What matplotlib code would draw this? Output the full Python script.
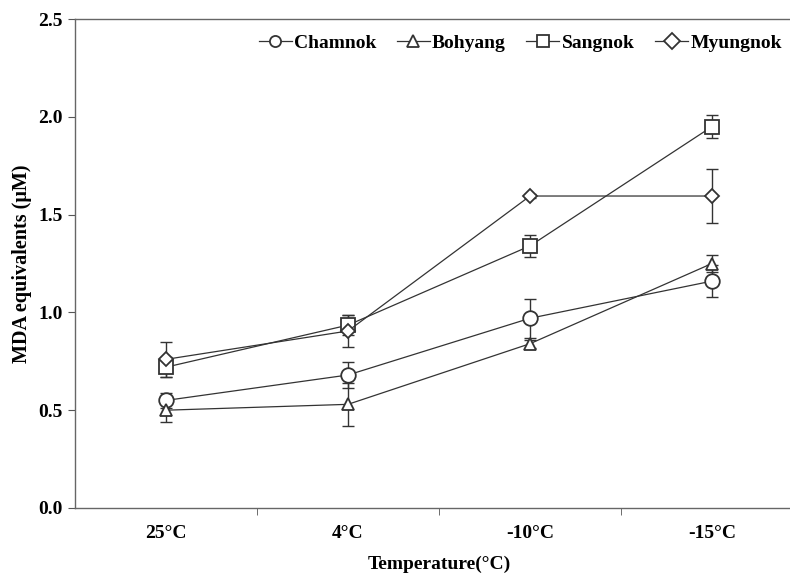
import numpy as np
import matplotlib.pyplot as plt

plt.rcParams['font.family'] = ['Liberation Serif', 'DejaVu Serif']
plt.rcParams['font.weight'] = 'bold'

temps = ['25°C', '4°C', '-10°C', '-15°C']
names = ['Chamnok', 'Bohyang', 'Sangnok', 'Myungnok']
markers = ['o', '^', 's', 'D']
msizes = [10.5, 9, 10, 7.5]

chamnok = [0.55, 0.68, 0.97, 1.16]
chamnok_err = [0.04, 0.065, 0.10, 0.08]
bohyang = [0.50, 0.53, 0.84, 1.25]
bohyang_err = [0.06, 0.11, 0.02, 0.045]
sangnok = [0.72, 0.935, 1.34, 1.95]
sangnok_err = [0.05, 0.05, 0.055, 0.06]
myungnok = [0.76, 0.905, 1.595, 1.595]
myungnok_err = [0.09, 0.08, 0.01, 0.14]

series = [chamnok, bohyang, sangnok, myungnok]
errs = [chamnok_err, bohyang_err, sangnok_err, myungnok_err]

col = '#333333'
fig = plt.figure(figsize=(7.9, 5.78), dpi=100)
ax = fig.add_axes([75/790, 70/578, 728/790, 489/578])

x = np.arange(len(temps))
for vals, e, m, ms, nm in zip(series, errs, markers, msizes, names):
    ax.errorbar(x, vals, yerr=e, fmt='none', ecolor=col, elinewidth=1.0,
                capsize=4, capthick=1.0, zorder=2)
    ax.plot(x, vals, '-', color=col, lw=0.9, marker=m, ms=ms,
            mfc='white', mec=col, mew=1.3, label=nm, zorder=3)

ax.set_xlim(-0.5, 3.5)
ax.set_ylim(0, 2.5)
ax.set_yticks(np.arange(0, 2.51, 0.5))
ax.set_yticklabels(['%.1f' % v for v in np.arange(0, 2.51, 0.5)])
ax.set_xticks(x)
ax.set_xticklabels(temps)
ax.set_xticks([0.5, 1.5, 2.5], minor=True)
ax.tick_params(axis='x', which='major', length=0, pad=12, labelsize=14)
ax.tick_params(axis='x', which='minor', length=5, direction='out', color='#555555')
ax.tick_params(axis='y', length=5, direction='out', color='#555555', labelsize=14, pad=4)
for s in ['left', 'bottom', 'top', 'right']:
    ax.spines[s].set_color('#666666')
    ax.spines[s].set_linewidth(1.0)

ax.set_xlabel('Temperature(°C)', fontsize=14, fontweight='bold', labelpad=10)
ax.set_ylabel('MDA equivalents (μM)', fontsize=14.5, fontweight='bold', labelpad=4)

leg = ax.legend(loc='upper right', bbox_to_anchor=(782/790, 544/578), bbox_transform=fig.transFigure,
                ncol=4, frameon=False, handlelength=1.7, handletextpad=0.12,
                columnspacing=1.05, borderpad=0, borderaxespad=0,
                prop={'size': 14, 'weight': 'bold'})
for h in leg.legend_handles:
    h.set_markersize(8)

fig.savefig('out.png', dpi=100)
